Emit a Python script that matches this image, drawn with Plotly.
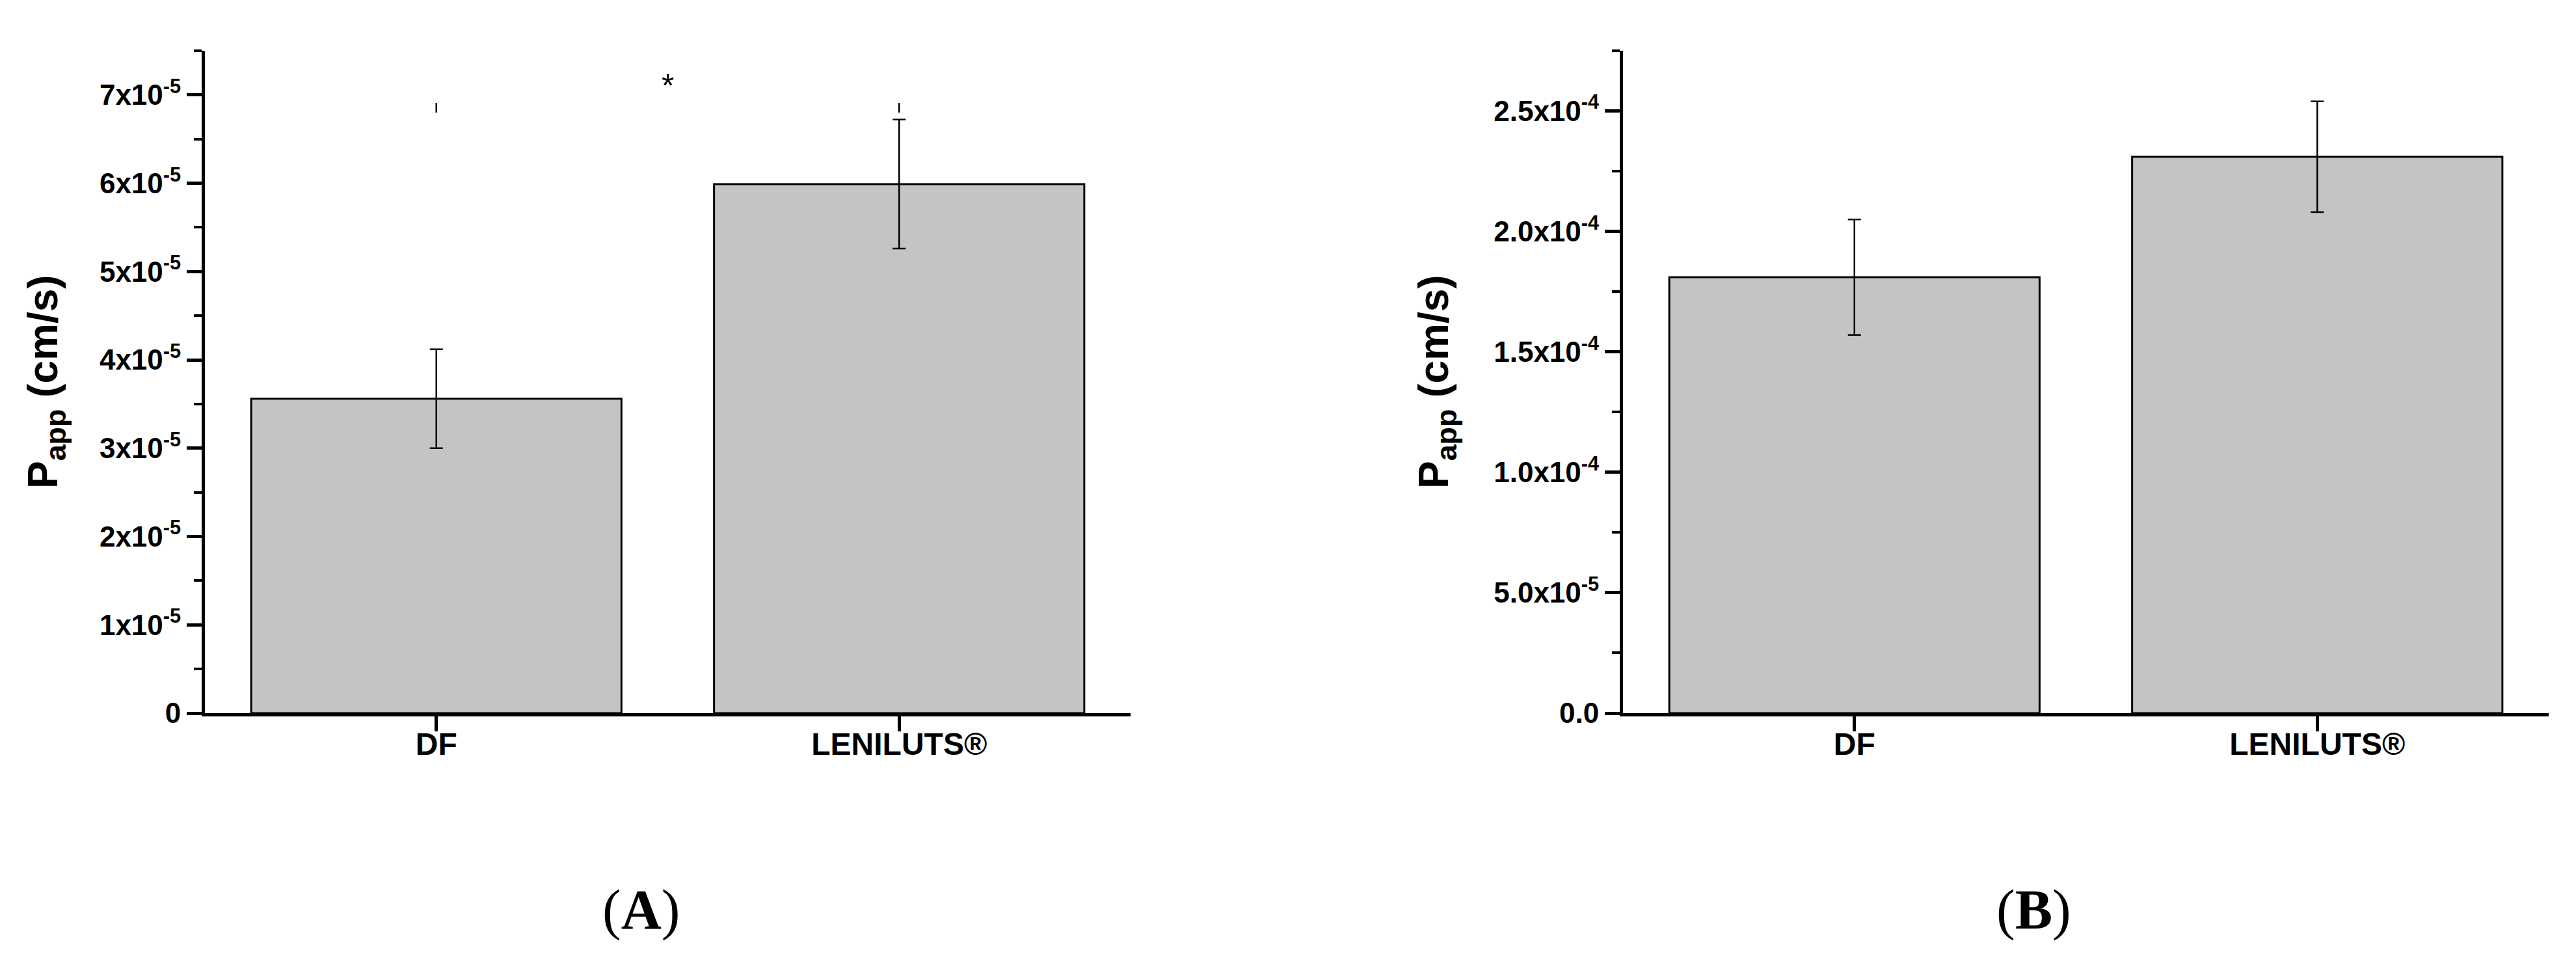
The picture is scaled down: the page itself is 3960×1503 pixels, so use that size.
import plotly.graph_objects as go
from plotly.subplots import make_subplots

categories = ["DF", "LENILUTS®"]

# panel A
papp_a = [3.56e-5, 5.99e-5]
err_a = [0.56e-5, 0.73e-5]
yticks_a = [0, 1e-5, 2e-5, 3e-5, 4e-5, 5e-5, 6e-5, 7e-5]
yticktext_a = ["0"] + ["%dx10<sup>-5</sup>" % i for i in range(1, 8)]
yrange_a = [0, 7.5e-5]
sig_bracket_y = [6.80e-5, 6.91e-5]
sig_star_y = 7.10e-5

# panel B
papp_b = [1.81e-4, 2.31e-4]
err_b = [0.24e-4, 0.23e-4]
yticks_b = [0, 5e-5, 1e-4, 1.5e-4, 2e-4, 2.5e-4]
yticktext_b = ["0.0", "5.0x10<sup>-5</sup>", "1.0x10<sup>-4</sup>", "1.5x10<sup>-4</sup>",
               "2.0x10<sup>-4</sup>", "2.5x10<sup>-4</sup>"]
yrange_b = [0, 2.75e-4]

W, H = 3960, 1503
SANS = "Liberation Sans, Arial"
SERIF = "Liberation Serif, Times New Roman"
BAR_FILL = "#c4c4c4"

fig = make_subplots(rows=1, cols=2)


def bars(y, err):
    return go.Bar(x=categories, y=y, width=0.8,
                  marker=dict(color=BAR_FILL, line=dict(color="black", width=3)),
                  error_y=dict(type="data", array=err, color="black", thickness=2.5, width=10),
                  showlegend=False)


fig.add_trace(bars(papp_a, err_a), row=1, col=1)
fig.add_trace(bars(papp_b, err_b), row=1, col=2)

# significance bracket ends (horizontal line missing in the original)
fig.add_trace(go.Scatter(x=[categories[0], categories[0], None, categories[1], categories[1]],
                         y=[sig_bracket_y[0], sig_bracket_y[1], None, sig_bracket_y[0], sig_bracket_y[1]],
                         mode="lines", line=dict(color="black", width=2.5),
                         showlegend=False, hoverinfo="skip"), row=1, col=1)

xstyle = dict(type="category", range=[-0.5, 1.5], showgrid=False, zeroline=False,
              showline=True, linecolor="black", linewidth=5,
              ticks="outside", ticklen=23, tickwidth=5, tickcolor="black",
              tickfont=dict(family=SANS, size=48, color="black", weight="bold"),
              ticklabelstandoff=-22, automargin=False)
ystyle = dict(showgrid=False, zeroline=False, showline=True, linecolor="black", linewidth=5,
              ticks="outside", ticklen=23, tickwidth=5, tickcolor="black",
              tickfont=dict(family=SANS, size=44, color="black", weight="bold"),
              tickmode="array", automargin=False)

ydom = [1 - 1088 / H, 1 - 70 / H]
fig.update_layout(
    xaxis=dict(xstyle, domain=[307 / W, 1730 / W]),
    xaxis2=dict(xstyle, domain=[2487 / W, 3910 / W]),
    yaxis=dict(ystyle, domain=ydom, range=yrange_a, tickvals=yticks_a, ticktext=yticktext_a,
               minor=dict(dtick=0.5e-5, tick0=0, ticks="outside", ticklen=12, tickwidth=4,
                          tickcolor="black", showgrid=False)),
    yaxis2=dict(ystyle, domain=ydom, range=yrange_b, tickvals=yticks_b, ticktext=yticktext_b,
                minor=dict(dtick=0.25e-4, tick0=0, ticks="outside", ticklen=12, tickwidth=4,
                           tickcolor="black", showgrid=False)),
    width=W, height=H, margin=dict(l=0, r=0, t=0, b=0),
    paper_bgcolor="white", plot_bgcolor="white", template="none",
    bargap=0.2,
)

fig.add_annotation(x=0.5, y=sig_star_y, xref="x", yref="y", text="*", showarrow=False,
                   xanchor="center", yanchor="middle",
                   font=dict(family=SANS, size=50, color="black"))

ytitle = "P<sub>app</sub> (cm/s)"
for xpos in [62 / W, 2200 / W]:
    fig.add_annotation(x=xpos, y=1 - 579 / H, xref="paper", yref="paper", text=ytitle,
                       textangle=-90, showarrow=False, xanchor="center", yanchor="middle",
                       font=dict(family=SANS, size=64, color="black", weight="bold"))

for xpos, lab in [(977 / W, "A"), (3118 / W, "B")]:
    fig.add_annotation(x=xpos, y=1 - 1390 / H, xref="paper", yref="paper",
                       text="(<b>%s</b>)" % lab, showarrow=False,
                       xanchor="center", yanchor="middle",
                       font=dict(family=SERIF, size=86, color="black"))

fig.write_html("out.html")
